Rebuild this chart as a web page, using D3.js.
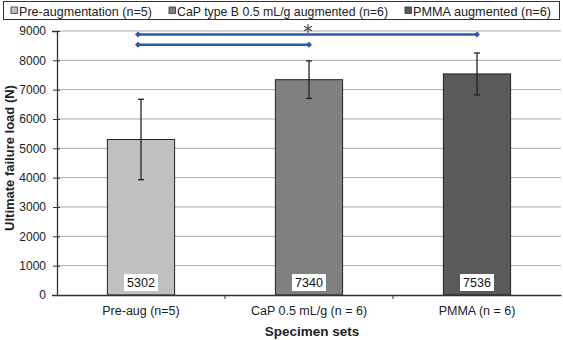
<!DOCTYPE html>
<html>
<head>
<meta charset="utf-8">
<script src="https://cdn.jsdelivr.net/npm/d3@7"></script>
<style>
  body { margin: 0; background: #fff; }
  svg { font-family: "Liberation Sans", Arial, sans-serif; }
</style>
</head>
<body>
<div class="chart"></div>
<script>
// chart data
const categories = ["Pre-aug (n=5)", "CaP 0.5 mL/g (n = 6)", "PMMA (n = 6)"];
const legendLabels = ["Pre-augmentation (n=5)", "CaP type B 0.5 mL/g augmented (n=6)", "PMMA augmented (n=6)"];
const means = [5302, 7340, 7536];
const sds = [1370, 640, 715];
const barColors = ["#c0c0c0", "#808080", "#5a5a5a"];
const yTicks = [0, 1000, 2000, 3000, 4000, 5000, 6000, 7000, 8000, 9000];
// significance brackets: [from category, to category, level]
const sigLines = [[0, 2, 8880], [0, 1, 8530]];

const width = 563;
const height = 340;
const margin = { top: 31, right: 2, bottom: 45, left: 57 };

let svg = d3.select(".chart").append("svg")
    .attr("width", width)
    .attr("height", height);

let xScale = d3.scaleBand()
    .domain(categories)
    .range([margin.left, width - margin.right]);
let yScale = d3.scaleLinear()
    .domain([0, 9000])
    .range([height - margin.bottom, margin.top]);

// gridlines
svg.append("g")
    .selectAll("line")
    .data(yTicks.filter(d => d > 0))
    .enter()
    .append("line")
    .attr("x1", margin.left)
    .attr("x2", width - margin.right)
    .attr("y1", d => yScale(d))
    .attr("y2", d => yScale(d))
    .attr("stroke", "#a8a8a8")
    .attr("stroke-width", 1);

// bars
svg.append("g")
    .selectAll("rect")
    .data(means)
    .enter()
    .append("rect")
    .attr("x", (d, i) => xScale(categories[i]) + xScale.bandwidth() * 0.3)
    .attr("width", xScale.bandwidth() * 0.4)
    .attr("y", d => yScale(d))
    .attr("height", d => yScale(0) - yScale(d))
    .attr("fill", (d, i) => barColors[i])
    .attr("stroke", "#222")
    .attr("stroke-width", 1);

// error bars
let errG = svg.append("g").attr("stroke", "#222").attr("stroke-width", 1.3);
means.forEach((m, i) => {
    let cx = xScale(categories[i]) + xScale.bandwidth() / 2;
    errG.append("line")
        .attr("x1", cx).attr("x2", cx)
        .attr("y1", yScale(m + sds[i])).attr("y2", yScale(m - sds[i]));
    [m + sds[i], m - sds[i]].forEach(v => {
        errG.append("line")
            .attr("x1", cx - 3).attr("x2", cx + 3)
            .attr("y1", yScale(v)).attr("y2", yScale(v));
    });
});

// value labels
means.forEach((m, i) => {
    let cx = xScale(categories[i]) + xScale.bandwidth() / 2;
    svg.append("rect")
        .attr("x", cx - 17).attr("y", yScale(0) - 21)
        .attr("width", 34).attr("height", 17)
        .attr("fill", "#fff");
    svg.append("text")
        .attr("x", cx).attr("y", yScale(0) - 8)
        .attr("text-anchor", "middle")
        .style("font-size", "12.5px")
        .attr("fill", "#111")
        .text(m);
});

// significance lines
sigLines.forEach(s => {
    let x1 = xScale(categories[s[0]]) + xScale.bandwidth() / 2 - 3;
    let x2 = xScale(categories[s[1]]) + xScale.bandwidth() / 2;
    let y = yScale(s[2]);
    svg.append("line")
        .attr("x1", x1).attr("x2", x2)
        .attr("y1", y).attr("y2", y)
        .attr("stroke", "#2a5ba8")
        .attr("stroke-width", 2.5);
    [x1, x2].forEach(x => {
        svg.append("path")
            .attr("d", `M${x - 3},${y} L${x},${y - 3} L${x + 3},${y} L${x},${y + 3} Z`)
            .attr("fill", "#2a5ba8");
    });
});
// asterisk drawn as spokes
let ax = xScale(categories[1]) + xScale.bandwidth() / 2 - 1;
let ay = yScale(8880) - 6;
let astG = svg.append("g").attr("stroke", "#444").attr("stroke-width", 1.1);
[90, 30, -30].forEach(a => {
    let r = 4.5, rad = a * Math.PI / 180;
    astG.append("line")
        .attr("x1", ax - r * Math.cos(rad)).attr("y1", ay - r * Math.sin(rad))
        .attr("x2", ax + r * Math.cos(rad)).attr("y2", ay + r * Math.sin(rad));
});

// axes
let yAxis = d3.axisLeft(yScale).tickValues(yTicks).tickSize(5).tickFormat(d3.format("d"));
let yAxisG = svg.append("g")
    .attr("transform", "translate(" + margin.left + ",0)")
    .call(yAxis);
yAxisG.select(".domain").attr("stroke", "#333").attr("stroke-width", 1.3);
yAxisG.selectAll(".tick line").attr("stroke", "#333").attr("x1", 3).attr("x2", -4);
yAxisG.selectAll(".tick text")
    .attr("x", -11)
    .style("font-size", "12px")
    .style("font-family", "Liberation Sans, Arial, sans-serif")
    .attr("fill", "#222");

let xAxis = d3.axisBottom(xScale).tickSize(0);
let xAxisG = svg.append("g")
    .attr("transform", "translate(0," + yScale(0) + ")")
    .call(xAxis);
xAxisG.select(".domain").attr("stroke", "#333").attr("stroke-width", 1.3);
xAxisG.selectAll(".tick text")
    .attr("y", 11)
    .style("font-size", "12.5px")
    .style("font-family", "Liberation Sans, Arial, sans-serif")
    .attr("fill", "#222");
// category separators
svg.append("g")
    .selectAll("line")
    .data(categories.slice(1))
    .enter()
    .append("line")
    .attr("x1", d => xScale(d)).attr("x2", d => xScale(d))
    .attr("y1", yScale(0)).attr("y2", yScale(0) + 4)
    .attr("stroke", "#333");

// axis titles
svg.append("text")
    .attr("text-anchor", "middle")
    .attr("transform", "translate(14,158)rotate(-90)")
    .style("font-size", "13px")
    .style("font-weight", "bold")
    .attr("fill", "#222")
    .text("Ultimate failure load (N)");
svg.append("text")
    .attr("text-anchor", "middle")
    .attr("x", 312)
    .attr("y", 336)
    .style("font-size", "13.5px")
    .style("font-weight", "bold")
    .attr("fill", "#222")
    .text("Specimen sets");

// legend
svg.append("rect")
    .attr("x", 3.5).attr("y", 1.5)
    .attr("width", 556).attr("height", 18)
    .attr("fill", "#fff")
    .attr("stroke", "#333");
const legendX = [11, 169, 405];
const legendW = [133, 211, 138];
legendLabels.forEach((label, i) => {
    svg.append("rect")
        .attr("x", legendX[i]).attr("y", 7)
        .attr("width", 6.5).attr("height", 6.5)
        .attr("fill", barColors[i])
        .attr("stroke", "#333")
        .attr("stroke-width", 0.8);
    svg.append("text")
        .attr("x", legendX[i] + 8).attr("y", 15.5)
        .attr("textLength", legendW[i])
        .attr("lengthAdjust", "spacingAndGlyphs")
        .style("font-size", "13px")
        .attr("fill", "#222")
        .text(label);
});
</script>
</body>
</html>
